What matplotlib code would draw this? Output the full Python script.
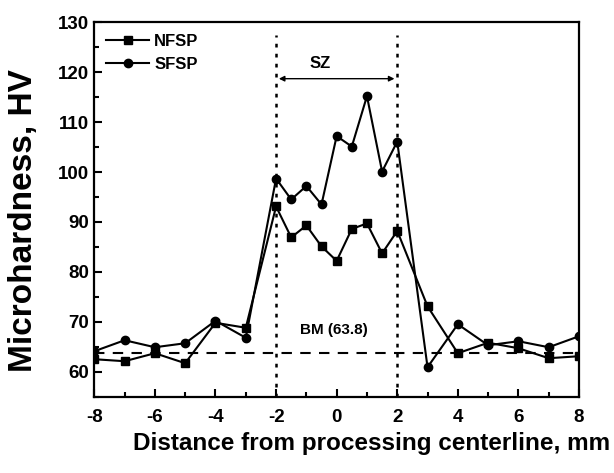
import numpy as np
import matplotlib
matplotlib.use('Agg')
import matplotlib.pyplot as plt
from matplotlib.ticker import MultipleLocator

plt.rcParams['font.family'] = ['Liberation Sans', 'DejaVu Sans']
plt.rcParams['font.weight'] = 'bold'
plt.rcParams['axes.unicode_minus'] = False

# posiciones de medida (mm)
dist = [-8, -7, -6, -5, -4, -3, -2, -1.5, -1, -0.5, 0, 0.5, 1, 1.5, 2, 3, 4, 5, 6, 7, 8]

nfsp = [62.5, 62.1, 63.7, 61.7, 69.8, 68.8, 93.1, 86.9, 89.3, 85.1, 82.2, 88.6, 89.7, 83.7, 88.2,
        73.1, 63.7, 65.8, 64.7, 62.7, 63.1]
sfsp = [64.1, 66.3, 64.9, 65.7, 70.2, 66.8, 98.7, 94.5, 97.2, 93.5, 107.2, 105.1, 115.2, 100.1, 106.1,
        60.9, 69.5, 65.3, 66.1, 64.9, 67.1]

bm = 63.8
sz_lim = [-2, 2]

fig = plt.figure(figsize=(6.14, 4.73), dpi=100)
ax = fig.add_axes([0.1536, 0.1614, 0.7894, 0.7915])

ax.plot(dist, nfsp, '-s', color='black', lw=1.5, ms=5.5, label='NFSP')
ax.plot(dist, sfsp, '-o', color='black', lw=1.5, ms=6, label='SFSP')

ax.axhline(bm, color='black', lw=1.5, ls=(0, (5, 4)))
for xv in sz_lim:
    ax.plot([xv, xv], [55, 127.4], color='black', lw=1.8, ls=(0, (1.5, 2.5)))

ax.annotate('', xy=(sz_lim[1], 118.7), xytext=(sz_lim[0], 118.7),
            arrowprops=dict(arrowstyle='<|-|>', color='black', lw=1, mutation_scale=8))
ax.text(-0.55, 121.8, 'SZ', ha='center', va='center', fontsize=12, fontweight='bold')
ax.text(-0.1, 68.4, 'BM (63.8)', ha='center', va='center', fontsize=11, fontweight='bold')

ax.set_xlim(-8, 8)
ax.set_ylim(55, 130)
ax.xaxis.set_major_locator(MultipleLocator(2))
ax.xaxis.set_minor_locator(MultipleLocator(1))
ax.yaxis.set_minor_locator(MultipleLocator(5))
ax.set_yticks([60, 70, 80, 90, 100, 110, 120, 130])
ax.tick_params(which='both', direction='in', width=1.5, labelsize=13.5)
ax.tick_params(which='major', length=6)
ax.tick_params(which='minor', length=3.5)
ax.tick_params(axis='x', pad=9)
for s in ax.spines.values():
    s.set_linewidth(1.6)

ax.set_xlabel('Distance from processing centerline, mm', fontsize=17.5, fontweight='bold')
ax.xaxis.set_label_coords(0.572, -0.095)
ax.set_ylabel('Microhardness, HV', fontsize=24, fontweight='bold')
ax.yaxis.set_label_coords(-0.115, 0.47)

ax.legend(loc='upper left', frameon=False, handlelength=2.6,
          handletextpad=0.3, borderaxespad=0.3, labelspacing=0.5,
          prop={'weight': 'bold', 'size': 12})

fig.savefig('out.png', dpi=100)
